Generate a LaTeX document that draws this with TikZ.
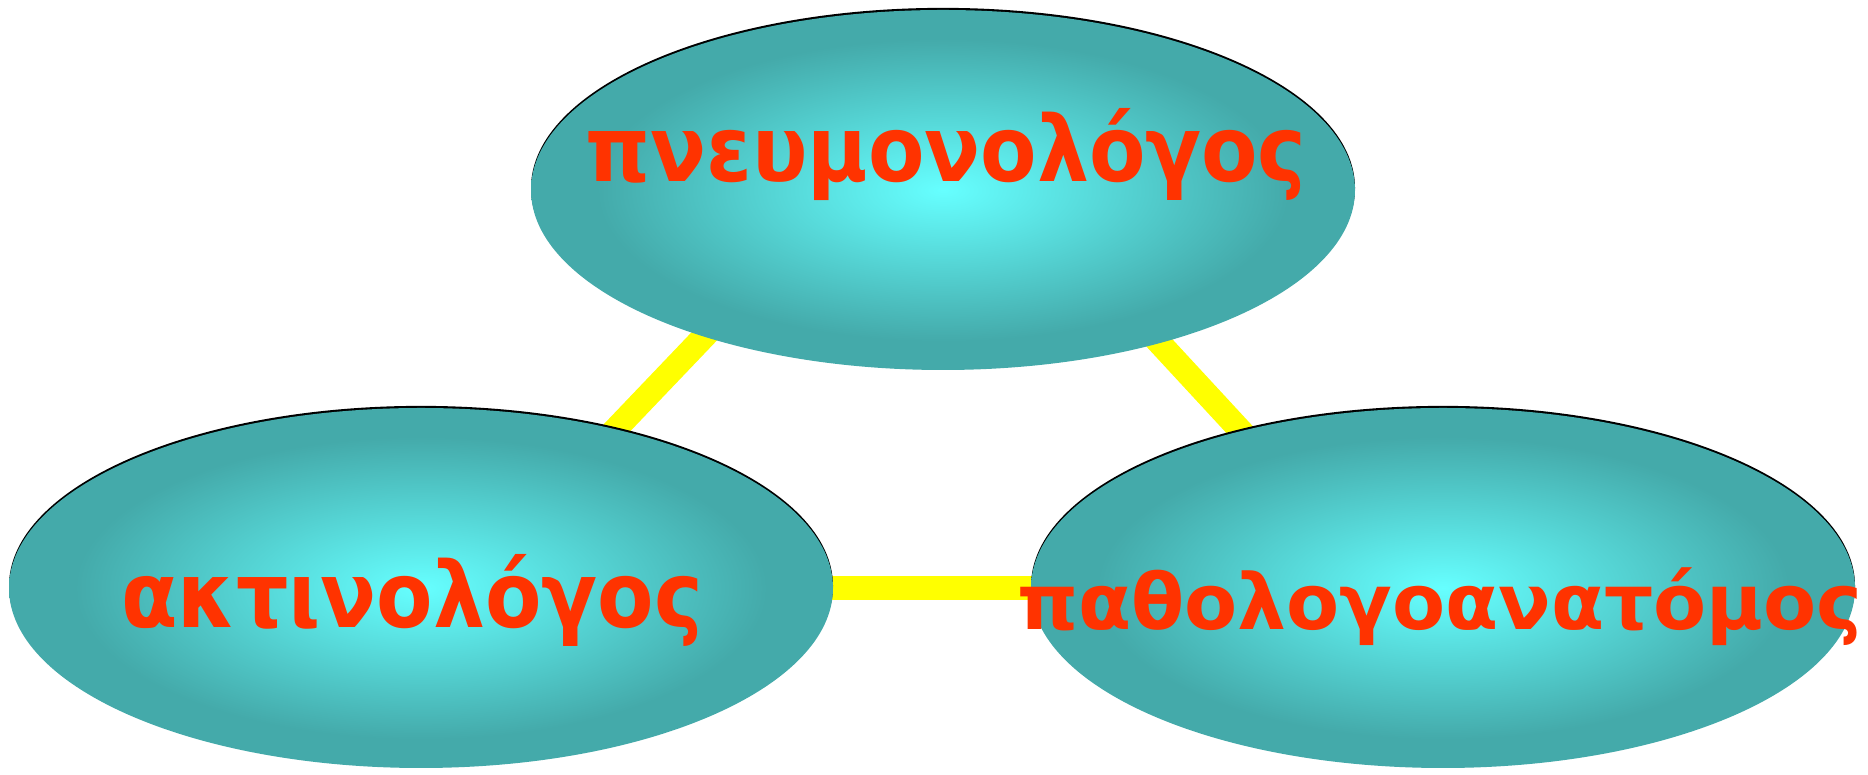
\documentclass[tikz,border=0pt]{standalone}
\usepackage{fontspec}
\newfontfamily\greekfont{DejaVu Sans Condensed}
\newfontfamily\greekwide{DejaVu Sans}
\usetikzlibrary{shapes.geometric,backgrounds,shadows}

\definecolor{bubblein}{HTML}{66FFFF}
\definecolor{bubbleout}{HTML}{44AAAA}
\definecolor{wordred}{HTML}{FF3300}
\definecolor{linkyellow}{HTML}{FFFF00}

\pgfdeclareradialshading{bubbleshade}{\pgfpoint{0bp}{0bp}}{%
  color(0bp)=(bubblein); color(21bp)=(bubbleout); color(50bp)=(bubbleout)}

\tikzset{
  bubble/.style={ellipse, minimum width=8.24cm, minimum height=3.6cm,
    inner sep=0pt, shading=bubbleshade,
    general shadow={fill=black, shadow yshift=0.6pt}},
  word/.style={anchor=base, text=wordred,
    font=\greekfont\bfseries\fontsize{26}{30}\selectfont},
  longword/.style={word, font=\greekwide\bfseries\fontsize{22}{26}\selectfont},
  link/.style={line width=0.24cm, draw=linkyellow}
}

\begin{document}
\begin{tikzpicture}
    \useasboundingbox (0,0) rectangle (18.68,-7.75);

    % bubbles
    \node[bubble] (pn) at (9.43,-1.90) {};
    \node[bubble] (akt) at (4.21,-5.88) {};
    \node[bubble] (pat) at (14.43,-5.88) {};

    % words
    \node[word] (pnw) at ([xshift=0.03cm,yshift=0.08cm]pn.center) {πνευμονολόγος};
    \node[word] (aktw) at ([xshift=-0.09cm,yshift=-0.40cm]akt.center) {ακτινολόγος};
    \node[longword] (patw) at ([xshift=-0.03cm,yshift=-0.42cm]pat.center) {παθολογοανατόμος};

    % links
    \begin{scope}[on background layer]
        \draw[link] ([xshift=-0.99cm]pn.center) -- ([xshift=0.43cm]akt.center);
        \draw[link] ([xshift=0.75cm]pn.center) -- ([xshift=-0.57cm]pat.center);
        \draw[link] (akt.center) -- (pat.center);
    \end{scope}
\end{tikzpicture}
\end{document}
